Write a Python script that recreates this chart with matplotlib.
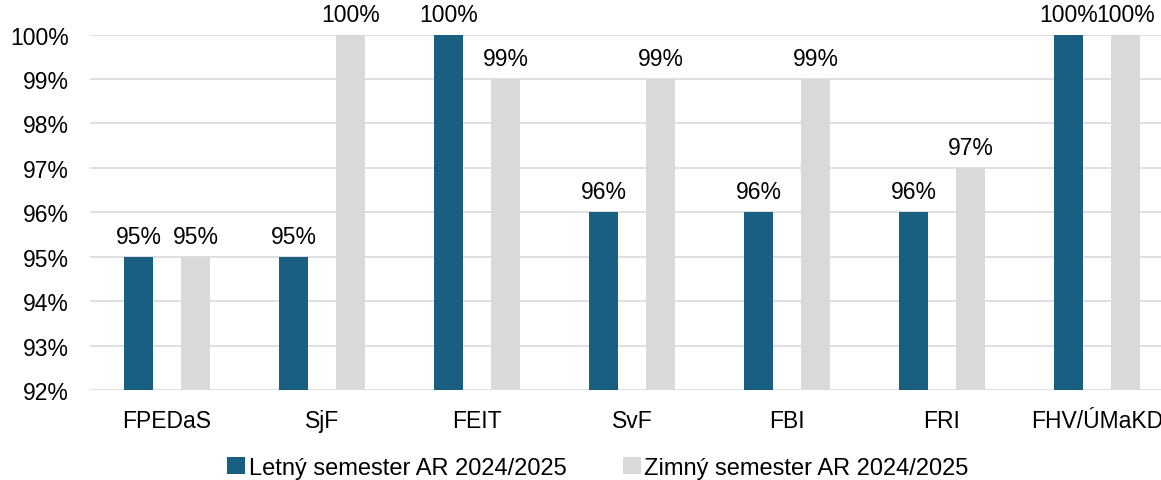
import numpy as np
import matplotlib.pyplot as plt
from matplotlib.ticker import FuncFormatter

plt.rcParams['font.family'] = ['Liberation Sans', 'DejaVu Sans']

categories = ["FPEDaS", "SjF", "FEIT", "SvF", "FBI", "FRI", "FHV/ÚMaKD"]
letny = [95, 95, 100, 96, 96, 96, 100]
zimny = [95, 100, 99, 99, 99, 97, 100]
labels = ["Letný semester AR 2024/2025", "Zimný semester AR 2024/2025"]
colors = ["#185F82", "#D9D9D9"]

fig = plt.figure(figsize=(11.61, 4.81), dpi=100)
ax = fig.add_axes([89.5 / 1161, 1 - 391 / 481, (1174.5 - 89.5) / 1161, (391 - 35.5) / 481])

x = np.arange(len(categories))
w = 0.187
off = 0.184
base = 92
fs = 16.5
b1 = ax.bar(x - off, np.array(letny) - base, w, bottom=base, color=colors[0], label=labels[0], zorder=3)
b2 = ax.bar(x + off, np.array(zimny) - base, w, bottom=base, color=colors[1], label=labels[1], zorder=3)

for xs, vals in ((x - off, letny), (x + off, zimny)):
    for xi, v in zip(xs, vals):
        ax.text(xi, v + 0.2, f"{v}%", ha="center", va="bottom", fontsize=fs, color="#000000", clip_on=False)

ax.set_xlim(-0.5, len(categories) - 0.5)
ax.set_ylim(92, 100)
ax.set_yticks(range(92, 101))
ax.yaxis.set_major_formatter(FuncFormatter(lambda v, p: f"{int(v)}%"))
ax.set_xticks(x)
ax.set_xticklabels(categories)
ax.tick_params(axis="both", length=0, labelsize=fs, colors="#000000")
ax.tick_params(axis="x", pad=14)
ax.tick_params(axis="y", pad=15)
ax.grid(axis="y", color="#D9D9D9", linewidth=1.2, zorder=0)
for s in ax.spines.values():
    s.set_visible(False)

fig.legend(handles=[b1, b2], labels=labels, loc="center", bbox_to_anchor=(598 / 1161, 1 - 469 / 481),
           ncol=2, frameon=False, fontsize=17, handlelength=0.75, handleheight=0.75,
           handletextpad=0.15, columnspacing=2.4)

fig.savefig("out.png", dpi=100)
